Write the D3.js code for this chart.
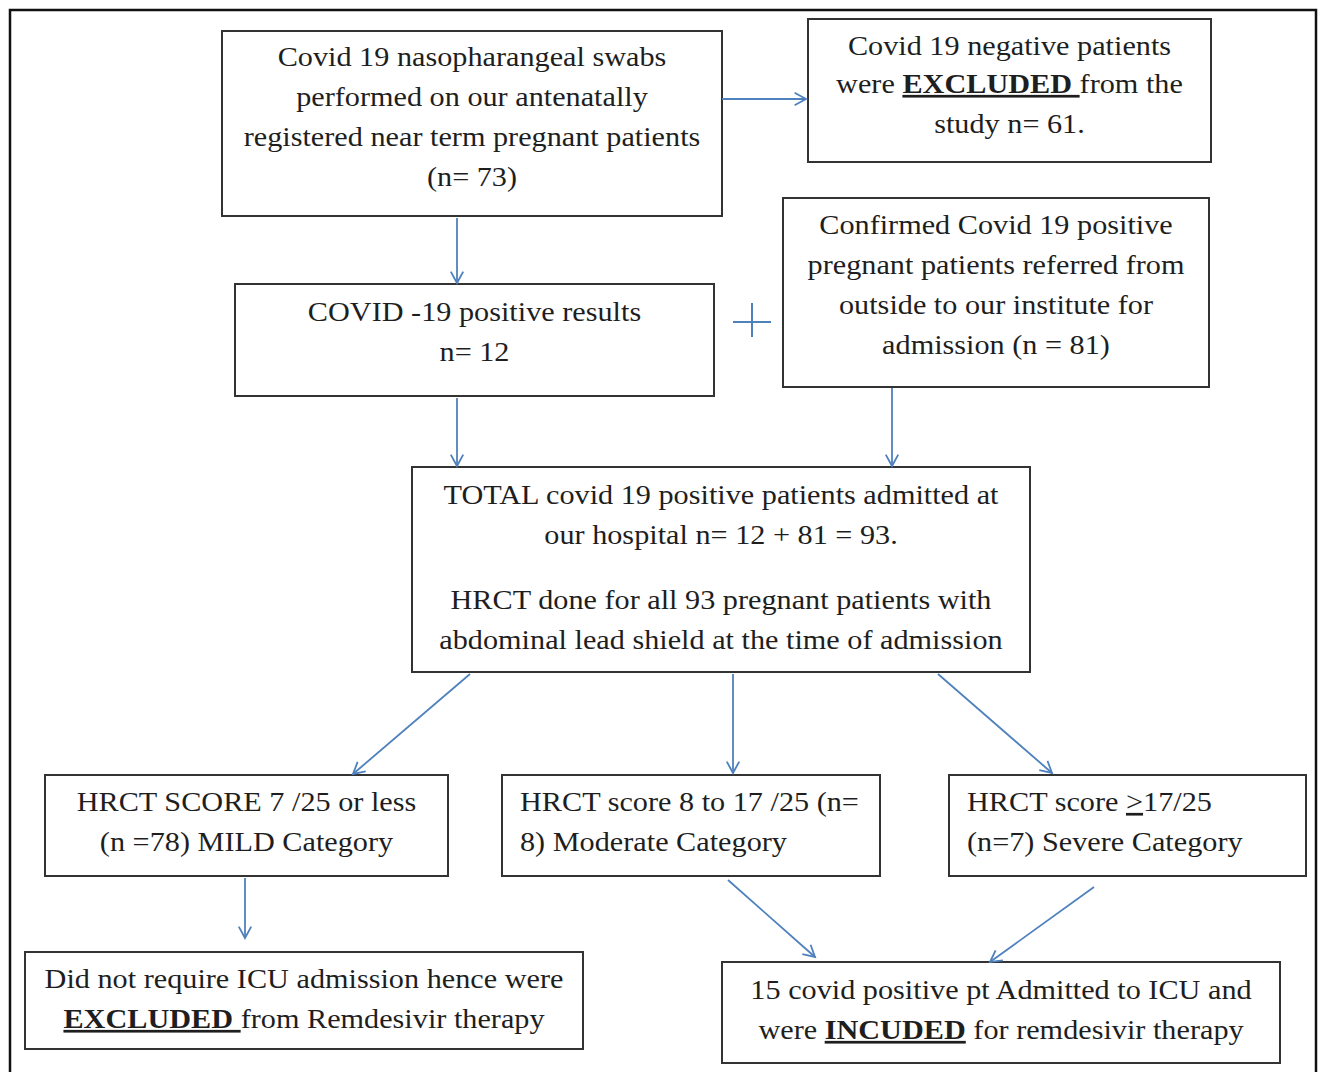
<!DOCTYPE html>
<html>
<head>
<meta charset="utf-8">
<script src="https://cdn.jsdelivr.net/npm/d3@7"></script>
<style>
  body { margin: 0; background: #fff; }
  svg text { font-family: "Liberation Serif", "Times New Roman", serif; fill: #1e1e1e; }
</style>
</head>
<body>
<svg id="base" width="1321" height="1072"></svg>
<script>
// ---- flowchart text, one array per box (each line = list of [text, style]) ----
var swabText = [
  [["Covid 19 nasopharangeal swabs"]],
  [["performed on our antenatally"]],
  [["registered near term pregnant patients"]],
  [["(n= 73)"]]
];
var negativeText = [
  [["Covid 19 negative patients"]],
  [["were "], ["EXCLUDED ", "bu"], ["from the"]],
  [["study n= 61."]]
];
var positiveText = [
  [["COVID -19 positive results"]],
  [["n= 12"]]
];
var referredText = [
  [["Confirmed Covid 19 positive"]],
  [["pregnant patients referred from"]],
  [["outside to our institute for"]],
  [["admission (n = 81)"]]
];
var totalText = [
  [["TOTAL covid 19 positive patients admitted at"]],
  [["our hospital n= 12 + 81 = 93."]],
  [["HRCT done for all 93 pregnant patients with"]],
  [["abdominal lead shield at the time of admission"]]
];
var mildText = [
  [["HRCT SCORE 7 /25 or less"]],
  [["(n =78) MILD Category"]]
];
var moderateText = [
  [["HRCT score 8 to 17 /25 (n="]],
  [["8) Moderate Category"]]
];
var severeText = [
  [["HRCT score "], [">", "u"], ["17/25"]],
  [["(n=7) Severe Category"]]
];
var excludedText = [
  [["Did not require ICU admission hence were"]],
  [["EXCLUDED ", "bu"], ["from Remdesivir therapy"]]
];
var includedText = [
  [["15 covid positive pt Admitted to ICU and"]],
  [["were "], ["INCUDED", "bu"], [" for remdesivir therapy"]]
];

// ---- layout (pixels) ----
var boxes = [
  {id: "swab",     lines: swabText,     x: 222, y: 31,  w: 500, h: 185, base: [66, 106, 146, 186], align: "middle"},
  {id: "negative", lines: negativeText, x: 808, y: 19,  w: 403, h: 143, base: [55, 93, 133],       align: "middle"},
  {id: "positive", lines: positiveText, x: 235, y: 284, w: 479, h: 112, base: [321, 361],          align: "middle"},
  {id: "referred", lines: referredText, x: 783, y: 198, w: 426, h: 189, base: [234, 274, 314, 354], align: "middle"},
  {id: "total",    lines: totalText,    x: 412, y: 467, w: 618, h: 205, base: [504, 544, 609, 649], align: "middle"},
  {id: "mild",     lines: mildText,     x: 45,  y: 775, w: 403, h: 101, base: [811, 851],          align: "middle"},
  {id: "moderate", lines: moderateText, x: 502, y: 775, w: 378, h: 101, base: [811, 851],          align: "start", pad: 18},
  {id: "severe",   lines: severeText,   x: 949, y: 775, w: 357, h: 101, base: [811, 851],          align: "start", pad: 18},
  {id: "excluded", lines: excludedText, x: 25,  y: 952, w: 558, h: 97,  base: [988, 1028],         align: "middle"},
  {id: "included", lines: includedText, x: 722, y: 962, w: 558, h: 101, base: [999, 1039],         align: "middle"}
];

var arrows = [
  [722, 99, 806, 99],
  [457, 218, 457, 283],
  [457, 398, 457, 466],
  [892, 388, 892, 466],
  [470, 674, 353, 774],
  [733, 674, 733, 773],
  [938, 674, 1052, 773],
  [245, 878, 245, 938],
  [728, 880, 815, 957],
  [1094, 887, 990, 962]
];

var blue = "#4f81bd";
var sx = 1.12;   // the original text is a bit wide, stretch horizontally
var svg = d3.select("#base");

// outer frame
svg.append("rect").attr("x", 10).attr("y", 10).attr("width", 1306).attr("height", 1080)
   .attr("fill", "none").attr("stroke", "#111").attr("stroke-width", 2.5);

// boxes
var g = svg.selectAll("g.box").data(boxes).enter().append("g").attr("class", "box");
g.append("rect")
  .attr("x", d => d.x).attr("y", d => d.y).attr("width", d => d.w).attr("height", d => d.h)
  .attr("fill", "#fff").attr("stroke", "#333").attr("stroke-width", 2);

g.each(function(d) {
  var gg = d3.select(this);
  d.lines.forEach(function(line, i) {
    var tx = d.align == "middle" ? d.x + d.w / 2 : d.x + d.pad;
    var t = gg.append("text").attr("x", 0).attr("y", 0)
              .attr("transform", `translate(${tx},${d.base[i]}) scale(${sx},1)`)
              .attr("text-anchor", d.align).attr("font-size", 27);
    line.forEach(function(seg) {
      var s = seg[1] || "";
      var ts = t.append("tspan").text(seg[0]).style("white-space", "pre");
      if (s.indexOf("b") >= 0) ts.attr("font-weight", "bold");
      if (s.indexOf("u") >= 0) ts.style("text-decoration", "underline");
    });
  });
});

// arrows (open V head)
var ag = svg.selectAll("g.arrow").data(arrows).enter().append("g").attr("class", "arrow")
  .attr("stroke", blue).attr("stroke-width", 1.8).attr("fill", "none");
ag.append("line").attr("x1", d => d[0]).attr("y1", d => d[1]).attr("x2", d => d[2]).attr("y2", d => d[3]);
ag.append("path").attr("d", function(d) {
  var a = Math.atan2(d[3] - d[1], d[2] - d[0]), L = 13, W = 0.5;
  var p1 = [d[2] - L * Math.cos(a - W), d[3] - L * Math.sin(a - W)];
  var p2 = [d[2] - L * Math.cos(a + W), d[3] - L * Math.sin(a + W)];
  return "M" + p1 + "L" + d[2] + "," + d[3] + "L" + p2;
});

// plus sign between the two middle boxes
var plus = svg.append("g").attr("stroke", blue).attr("stroke-width", 2);
plus.append("line").attr("x1", 733).attr("y1", 322).attr("x2", 771).attr("y2", 322);
plus.append("line").attr("x1", 752).attr("y1", 303).attr("x2", 752).attr("y2", 337);
</script>
</body>
</html>
